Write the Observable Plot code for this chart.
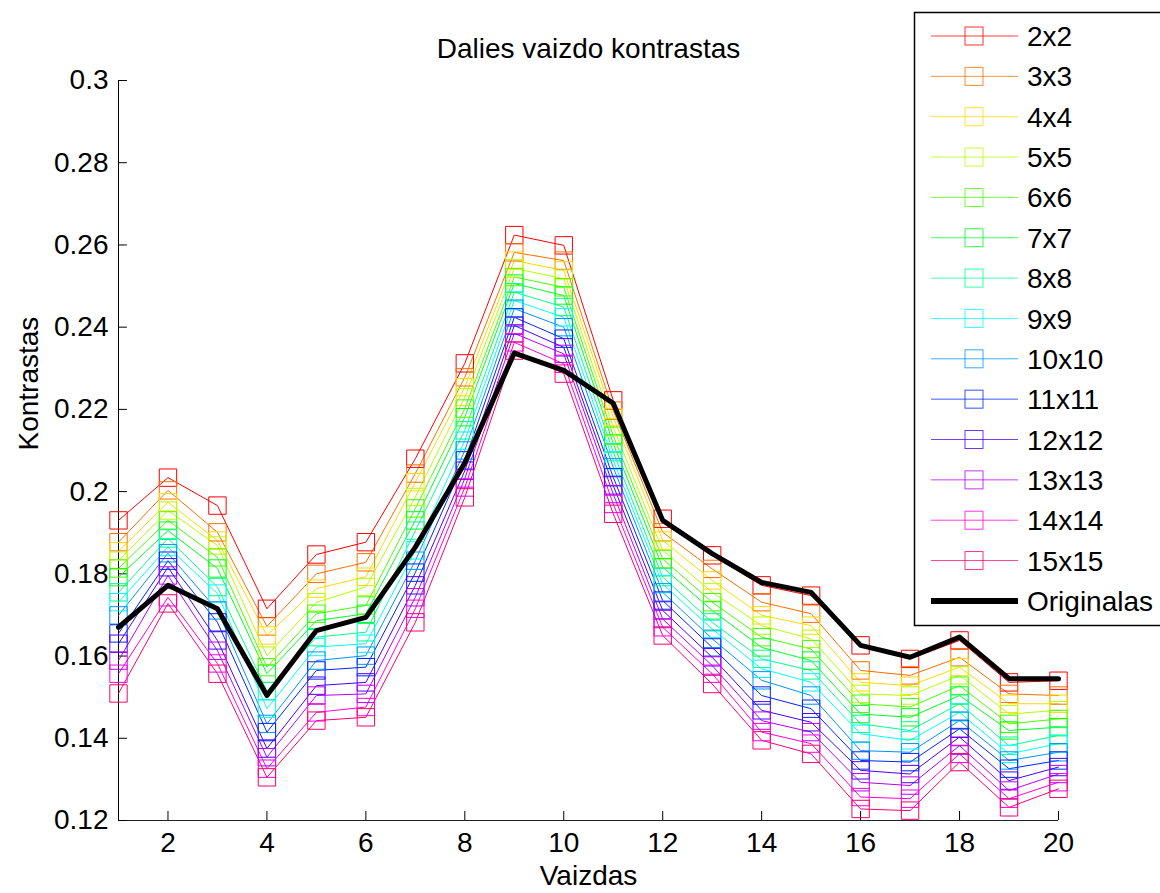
<!DOCTYPE html>
<html><head><meta charset="utf-8">
<script src="https://cdn.jsdelivr.net/npm/d3@7"></script>
<script src="https://cdn.jsdelivr.net/npm/@observablehq/plot@0.6"></script>
<style>
body{margin:0;background:#fff;font-family:"Liberation Sans",Arial,sans-serif}
#wrap{position:relative;width:1160px;height:893px;overflow:hidden}
#wrap svg{position:absolute;left:0;top:0}
</style>
</head><body><div id="wrap"></div>
<script>
// ---- data ----
const images = [1,2,3,4,5,6,7,8,9,10,11,12,13,14,15,16,17,18,19,20];
const seriesNames = ["2x2","3x3","4x4","5x5","6x6","7x7","8x8","9x9","10x10","11x11","12x12","13x13","14x14","15x15"];
const seriesColors = ["#ff0000","#ff6d00","#ffdb00","#b6ff00","#49ff00","#00ff24","#00ff92","#00ffff","#0092ff","#0024ff","#4900ff","#b600ff","#ff00db","#ff006d"];
const s2x2   = [0.193, 0.2034, 0.1966, 0.1715, 0.1847, 0.1877, 0.208, 0.2312, 0.2624, 0.2599, 0.2222, 0.1934, 0.1845, 0.1772, 0.1747, 0.1626, 0.1593, 0.1638, 0.1536, 0.154];
const s3x3   = [0.1877, 0.2003, 0.1901, 0.1672, 0.18, 0.1828, 0.2044, 0.2278, 0.2582, 0.2562, 0.2197, 0.1901, 0.1812, 0.1731, 0.1703, 0.1565, 0.1553, 0.1597, 0.1508, 0.1504];
const s4x4   = [0.1855, 0.1974, 0.1881, 0.165, 0.1764, 0.1793, 0.2023, 0.2254, 0.2562, 0.2538, 0.2181, 0.1881, 0.1784, 0.1699, 0.1674, 0.1536, 0.1528, 0.1573, 0.1484, 0.1484];
const s5x5   = [0.1832, 0.1954, 0.1869, 0.1601, 0.1731, 0.1768, 0.1987, 0.223, 0.2543, 0.2518, 0.2157, 0.1857, 0.1755, 0.1674, 0.1642, 0.1508, 0.1504, 0.1553, 0.1459, 0.1468];
const s6x6   = [0.1813, 0.193, 0.184, 0.1573, 0.1703, 0.1723, 0.1959, 0.2202, 0.2522, 0.2497, 0.2136, 0.1836, 0.1731, 0.1646, 0.1617, 0.1484, 0.1476, 0.1528, 0.1435, 0.1447];
const s7x7   = [0.1792, 0.1905, 0.1813, 0.1557, 0.1686, 0.1703, 0.193, 0.2181, 0.2506, 0.2477, 0.2117, 0.1816, 0.1711, 0.1621, 0.1589, 0.1459, 0.1451, 0.1504, 0.1419, 0.1427];
const s8x8   = [0.1755, 0.1886, 0.1768, 0.1515, 0.1646, 0.1658, 0.1905, 0.2149, 0.2485, 0.2449, 0.2096, 0.1792, 0.1682, 0.1593, 0.1565, 0.1435, 0.1419, 0.1484, 0.1382, 0.1407];
const s9x9   = [0.1731, 0.1865, 0.1752, 0.1472, 0.1622, 0.163, 0.1857, 0.2124, 0.2465, 0.2424, 0.2076, 0.1775, 0.1666, 0.1569, 0.1536, 0.1411, 0.1395, 0.1463, 0.1362, 0.1387];
const s10x10 = [0.1699, 0.185, 0.1711, 0.1435, 0.1589, 0.1601, 0.1832, 0.21, 0.2445, 0.24, 0.2059, 0.1755, 0.1642, 0.1541, 0.1504, 0.137, 0.1366, 0.1443, 0.1346, 0.1366];
const s11x11 = [0.1655, 0.1832, 0.1682, 0.1415, 0.1565, 0.1573, 0.1803, 0.2076, 0.2424, 0.2372, 0.2035, 0.1735, 0.1621, 0.1504, 0.1472, 0.1346, 0.1342, 0.1423, 0.1326, 0.1346];
const s12x12 = [0.163, 0.1816, 0.1638, 0.1375, 0.1528, 0.1536, 0.1772, 0.2051, 0.2404, 0.2351, 0.2015, 0.1711, 0.1597, 0.1468, 0.1439, 0.1322, 0.1313, 0.1403, 0.1297, 0.133];
const s13x13 = [0.1589, 0.1796, 0.1613, 0.1354, 0.1504, 0.1508, 0.1743, 0.2032, 0.2385, 0.2335, 0.1994, 0.169, 0.1577, 0.1443, 0.1415, 0.1293, 0.1285, 0.1382, 0.1273, 0.1313];
const s14x14 = [0.1557, 0.1743, 0.1582, 0.1326, 0.1463, 0.1476, 0.1715, 0.201, 0.2363, 0.2311, 0.197, 0.167, 0.1557, 0.1415, 0.1387, 0.1257, 0.1253, 0.1362, 0.1253, 0.1293];
const s15x15 = [0.1509, 0.1728, 0.1557, 0.1305, 0.1443, 0.1451, 0.1682, 0.1986, 0.2343, 0.2287, 0.1946, 0.165, 0.1532, 0.1395, 0.1362, 0.1228, 0.1224, 0.1342, 0.1232, 0.1277];
const original = [0.167, 0.1772, 0.1715, 0.1504, 0.1662, 0.1694, 0.1865, 0.207, 0.2337, 0.2295, 0.2215, 0.193, 0.1849, 0.1779, 0.1755, 0.1626, 0.1597, 0.1646, 0.1545, 0.1545];
const originalName = "Originalas";
const xTicks = [2,4,6,8,10,12,14,16,18,20];
const yTicks = [0.12,0.14,0.16,0.18,0.2,0.22,0.24,0.26,0.28,0.3];
const titleText = "Dalies vaizdo kontrastas";
const xLabel = "Vaizdas";
const yLabel = "Kontrastas";

// ---- tables ----
const allSeries = [s2x2,s3x3,s4x4,s5x5,s6x6,s7x7,s8x8,s9x9,s10x10,s11x11,s12x12,s13x13,s14x14,s15x15];
const rows = [];
allSeries.forEach((vals, i) => vals.forEach((v, j) => rows.push({x: images[j], y: v, series: seriesNames[i]})));
const origRows = original.map((v, j) => ({x: images[j], y: v}));

const FS = 28;
const tickLenY = 0.0022; // ~9px
const tickLenX = 0.18;   // ~9px

const chart = Plot.plot({
  width: 1160, height: 893,
  marginLeft: 118, marginRight: 102, marginTop: 80, marginBottom: 73,
  style: {fontFamily: "'Liberation Sans', Arial, sans-serif", fontSize: FS + "px", background: "white", overflow: "visible"},
  x: {domain: [1, 20]},
  y: {domain: [0.12, 0.3]},
  color: {domain: seriesNames, range: seriesColors},
  marks: [
    Plot.axisX(xTicks, {tickSize: 0, tickPadding: 12, label: null, fontSize: FS, fill: "black"}),
    Plot.axisY(yTicks, {tickSize: 0, tickPadding: 10, label: null, fontSize: FS, fill: "black", tickFormat: d => String(+d.toFixed(2))}),
    Plot.ruleY([0.12], {x1: 1, x2: 20, stroke: "#222", strokeWidth: 1}),
    Plot.ruleX([1], {y1: 0.12, y2: 0.3, stroke: "black", strokeWidth: 1}),
    Plot.ruleX(xTicks, {x: d => d, y1: 0.12, y2: 0.12 + tickLenY, stroke: "black"}),
    Plot.ruleY(yTicks, {y: d => d, x1: 1, x2: 1 + tickLenX, stroke: "black"}),
    Plot.line(rows, {x: "x", y: "y", z: "series", stroke: "series", strokeWidth: 1}),
    Plot.dot(rows, {x: "x", y: "y", stroke: "series", symbol: "square", r: 9.8, fill: "none", strokeWidth: 1}),
    Plot.line(origRows, {x: "x", y: "y", stroke: "black", strokeWidth: 5, strokeLinejoin: "round"}),
    Plot.text([titleText], {frameAnchor: "top", lineAnchor: "middle", dy: -31, fontSize: FS, fill: "black"}),
    Plot.text([yLabel], {frameAnchor: "left", lineAnchor: "middle", rotate: -90, dx: -89, fontSize: FS, fill: "black"}),
    Plot.text([xLabel], {frameAnchor: "bottom", lineAnchor: "middle", dy: 56, fontSize: FS, fill: "black"})
  ]
});
const wrap = document.getElementById("wrap");
wrap.appendChild(chart);

// ---- legend overlay ----
const legItems = seriesNames.map((n, i) => ({name: n, color: seriesColors[i], marker: true, w: 1}))
  .concat([{name: originalName, color: "black", marker: false, w: 6}]);
const lg = d3.select(wrap).append("svg").attr("width", 1160).attr("height", 893)
  .style("pointer-events", "none");
lg.append("rect").attr("x", 914.5).attr("y", 12.5).attr("width", 300).attr("height", 613)
  .attr("fill", "white").attr("stroke", "black").attr("stroke-width", 1.5);
const row0 = 36, rowStep = 40.35;
legItems.forEach((d, i) => {
  const cy = row0 + i * rowStep;
  lg.append("line").attr("x1", 931).attr("x2", 1018).attr("y1", cy).attr("y2", cy)
    .attr("stroke", d.color).attr("stroke-width", d.w).attr("stroke-opacity", d.marker ? 0.75 : 1);
  if (d.marker) lg.append("rect").attr("x", 965).attr("y", cy - 9).attr("width", 18).attr("height", 18)
    .attr("fill", "none").attr("stroke", d.color).attr("stroke-opacity", 0.8);
  lg.append("text").attr("x", 1027).attr("y", cy).attr("dy", "0.36em")
    .attr("font-family", "'Liberation Sans', Arial, sans-serif").attr("font-size", FS).attr("fill", "black").text(d.name);
});
</script>
</body></html>
